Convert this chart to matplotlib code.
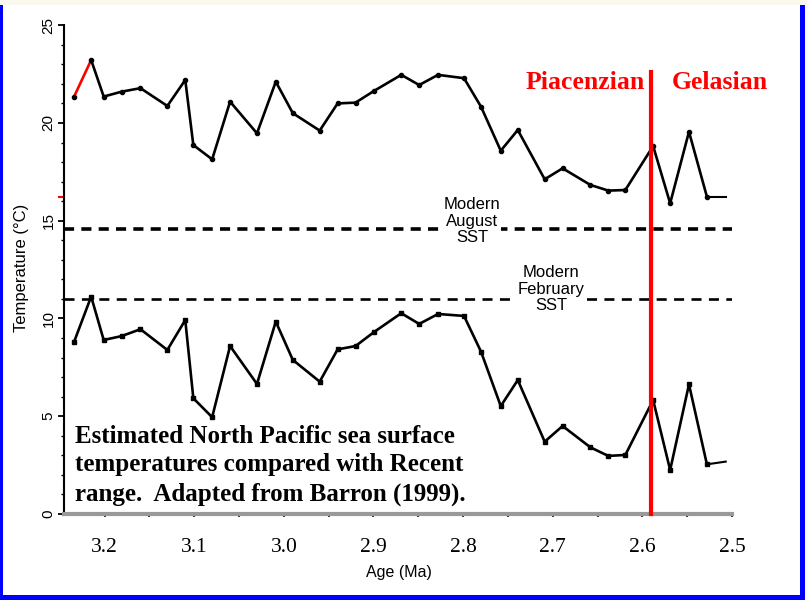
import matplotlib
matplotlib.use("Agg")
import matplotlib.pyplot as plt
from matplotlib.patches import Rectangle
from matplotlib.ticker import MultipleLocator

# ages (Ma) of the samples, oldest first
age = [3.234, 3.215, 3.201, 3.181, 3.160, 3.130, 3.110, 3.101, 3.080, 3.060,
       3.030, 3.009, 2.990, 2.960, 2.940, 2.920, 2.899, 2.869, 2.849, 2.828,
       2.799, 2.780, 2.758, 2.739, 2.709, 2.689, 2.658, 2.638, 2.619, 2.588,
       2.569, 2.548, 2.528]
# summer (upper) and winter (lower) SST estimates, deg C
summer = [21.35, 23.22, 21.35, 21.60, 21.78, 20.87, 22.20, 18.87, 18.14, 21.09,
          19.47, 22.11, 20.50, 19.61, 21.00, 21.04, 21.65, 22.46, 21.94, 22.46,
          22.29, 20.83, 18.58, 19.64, 17.12, 17.68, 16.83, 16.54, 16.57, 18.82,
          15.89, 19.55, 16.23]
winter = [8.81, 11.12, 8.90, 9.10, 9.45, 8.39, 9.92, 5.92, 4.95, 8.59,
          6.65, 9.84, 7.88, 6.77, 8.42, 8.59, 9.32, 10.27, 9.72, 10.23,
          10.13, 8.30, 5.52, 6.85, 3.70, 4.50, 3.41, 2.97, 3.02, 5.83,
          2.25, 6.63, 2.54]
# lines run on past the last sample to the end of the axis
age_tail = [2.528, 2.507]
summer_tail = [16.23, 16.23]
winter_tail = [2.54, 2.68]

modern_aug = 14.6
modern_feb = 11.0
boundary_age = 2.59      # Piacenzian / Gelasian
boundary_top = 22.6

x_ticks = [3.2, 3.1, 3.0, 2.9, 2.8, 2.7, 2.6, 2.5]
y_ticks = [0, 5, 10, 15, 20, 25]

W, H = 807, 600
fig = plt.figure(figsize=(W / 100, H / 100), dpi=100)
fig.patch.set_facecolor("white")
ax = fig.add_axes([64 / W, (H - 514) / H, (732 - 64) / W, (514 - 25.2) / H])

ax.set_xlim(3.2453, 2.507)
ax.set_ylim(0, 25)

lw = 1.9
ms = 3.0
# summer curve: first segment red
ax.plot(age[:2], summer[:2], color="red", lw=lw, zorder=3)
ax.plot(age[1:], summer[1:], color="black", lw=lw, marker="o", ms=ms, zorder=3)
ax.plot(age[:1], summer[:1], "o", color="black", ms=ms, zorder=4)
ax.plot(age_tail, summer_tail, color="black", lw=1.5, zorder=3)
# winter curve
ax.plot(age, winter, color="black", lw=lw, marker="s", ms=ms, zorder=3)
ax.plot(age_tail, winter_tail, color="black", lw=1.5, zorder=3)

# modern SST lines
ax.axhline(modern_aug, color="black", lw=2.6, dashes=(2.8, 2.0), zorder=2)
ax.axhline(modern_feb, color="black", lw=1.9, dashes=(3.8, 2.8), zorder=2)

sans = ["Liberation Sans", "DejaVu Sans"]
serif = ["Liberation Serif", "DejaVu Serif"]
box = dict(facecolor="white", edgecolor="none", pad=0.5)
ax.text(2.790, 14.98, "Modern\nAugust\nSST", ha="center", va="center",
        fontsize=12, family=sans, linespacing=1.12, bbox=box, zorder=5)
ax.text(2.702, 11.5, "Modern\nFebruary\nSST", ha="center", va="center",
        fontsize=12, family=sans, linespacing=1.12, bbox=box, zorder=5)

# stage boundary
ax.plot([boundary_age, boundary_age], [0, boundary_top], color="red", lw=3,
        zorder=6, clip_on=False)
ax.text(2.664, 22.05, "Piacenzian", ha="center", va="center", color="red",
        fontsize=18.5, fontweight="bold", family=serif)
ax.text(2.514, 22.05, "Gelasian", ha="center", va="center", color="red",
        fontsize=18.5, fontweight="bold", family=serif, clip_on=False)

ax.text(3.2331, 2.5,
        "Estimated North Pacific sea surface\n"
        "temperatures compared with Recent\n"
        "range.  Adapted from Barron (1999).",
        ha="left", va="center", fontsize=18, fontweight="bold", family=serif,
        linespacing=1.32, zorder=5)

# small red mark on the y axis
ax.plot([-0.007, 0], [summer[-1], summer[-1]], color="red", lw=1.5,
        transform=ax.get_yaxis_transform(), clip_on=False)

# axes styling
for s in ["top", "right"]:
    ax.spines[s].set_visible(False)
ax.spines["left"].set_linewidth(1.5)
ax.spines["bottom"].set_color("#999999")
ax.spines["bottom"].set_linewidth(3)

ax.set_xticks(x_ticks)
ax.set_xticklabels([f"{v:.1f}" for v in x_ticks], family=serif, fontsize=15.5)
ax.xaxis.set_minor_locator(MultipleLocator(0.05))
ax.tick_params(axis="x", which="both", length=2.5, width=1.5, color="#333333",
               pad=15)

ax.set_yticks(y_ticks)
ax.set_yticklabels([str(v) for v in y_ticks], family=sans, fontsize=11,
                   rotation=90, va="center")
ax.yaxis.set_minor_locator(MultipleLocator(1))
ax.tick_params(axis="y", which="major", length=4, width=1.3, pad=2)
ax.tick_params(axis="y", which="minor", length=2.5, width=1.0)

fig.text(22 / W, 1 - 268 / H, "Temperature (\u00b0C)", rotation=90,
         ha="center", va="center", fontsize=12, family=sans)
fig.text(399 / W, 1 - 573 / H, "Age (Ma)", ha="center", va="center",
         fontsize=11.5, family=sans)

# page frame
fig.patches.append(Rectangle((0, 1 - 5 / H), 1, 5 / H, transform=fig.transFigure,
                             facecolor="#fbf8ee", edgecolor="none"))
fig.patches.append(Rectangle((0, 0), 3 / W, 1 - 5 / H, transform=fig.transFigure,
                             facecolor="blue", edgecolor="none"))
fig.patches.append(Rectangle((800 / W, 0), 5 / W, 1 - 5 / H,
                             transform=fig.transFigure,
                             facecolor="blue", edgecolor="none"))
fig.patches.append(Rectangle((0, 0), 805 / W, 5 / H, transform=fig.transFigure,
                             facecolor="blue", edgecolor="none"))

fig.savefig("out.png", dpi=100)
